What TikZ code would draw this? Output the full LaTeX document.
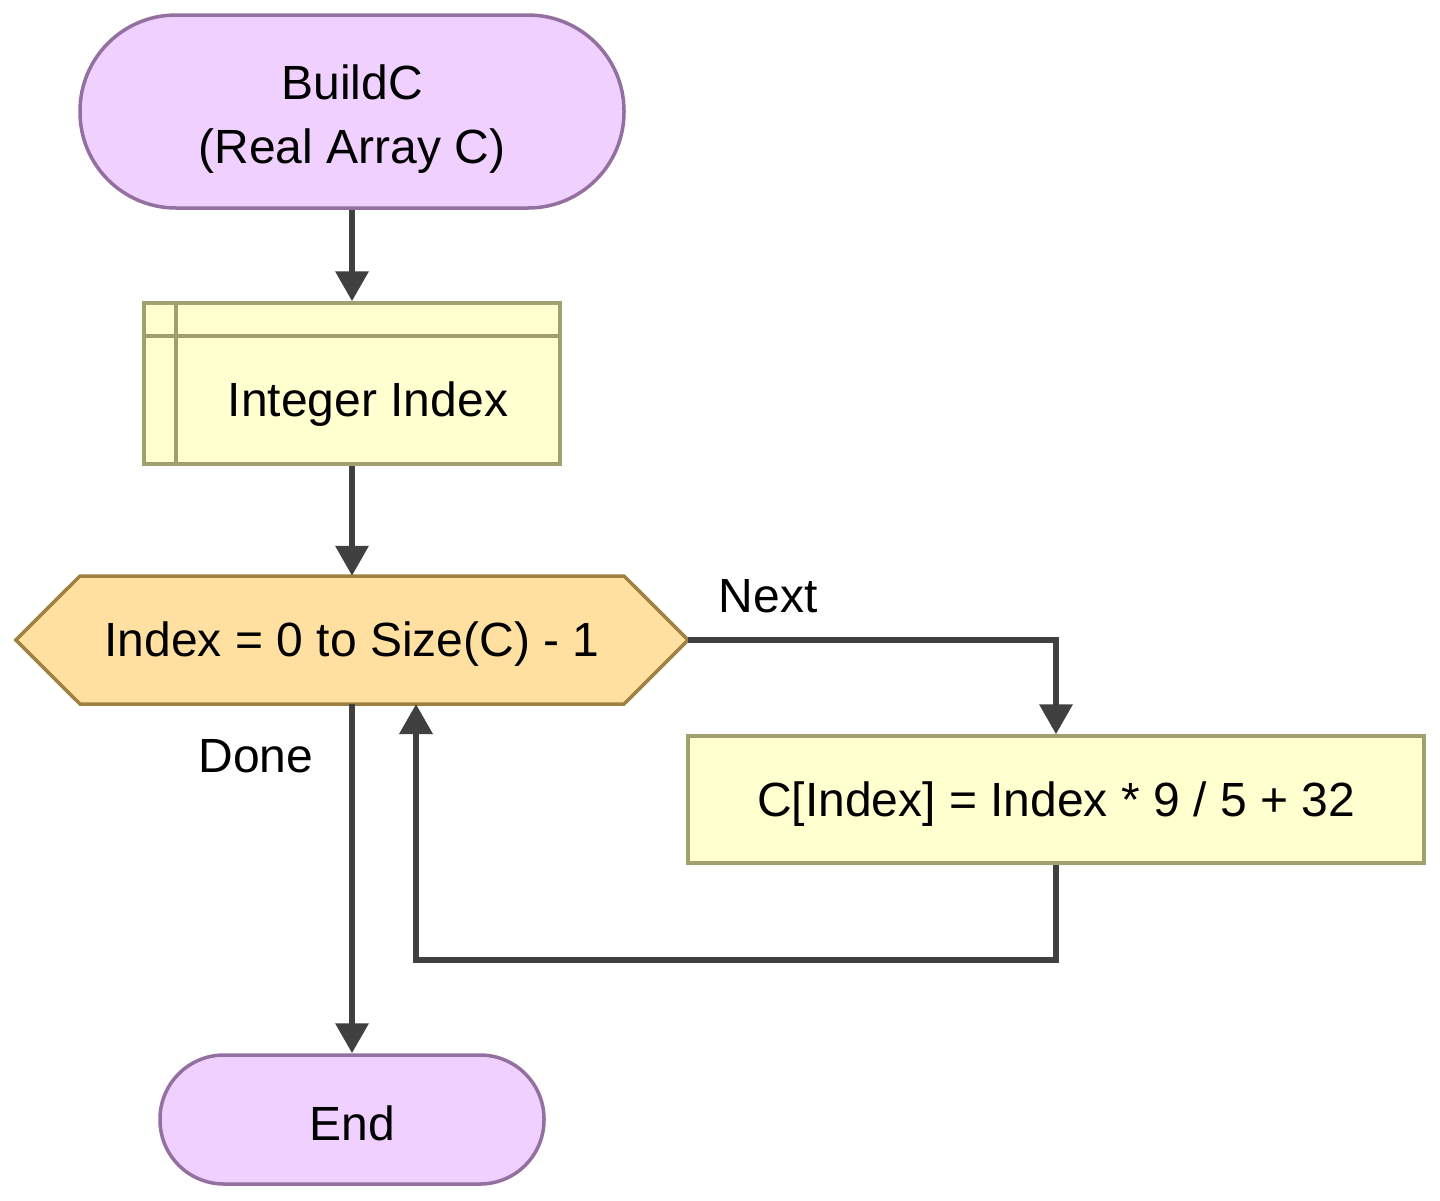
\documentclass[tikz,border=0pt]{standalone}
\usepackage{fontspec}
\setmainfont{Liberation Sans}
\usetikzlibrary{arrows.meta}
\definecolor{termfill}{HTML}{F0D0FF}
\definecolor{termdraw}{HTML}{9470A0}
\definecolor{boxfill}{HTML}{FFFFD0}
\definecolor{boxdraw}{HTML}{A0A070}
\definecolor{hexfill}{HTML}{FFE0A0}
\definecolor{hexdraw}{HTML}{A08040}
\definecolor{linecol}{HTML}{404040}
\tikzset{
  base/.style={inner sep=0pt, line width=3.5pt},
  term/.style={base, draw=termdraw, fill=termfill, rounded corners=#1},
  procbox/.style={base, draw=boxdraw, fill=boxfill},
  conn/.style={line width=6.5pt, draw=linecol, -{Triangle[length=30pt,width=32pt]}},
  lbl/.style={font=\fontsize{48}{64}\selectfont, inner sep=0pt, align=center}
}
\begin{document}
\begin{tikzpicture}[x=1pt,y=-1pt]
\useasboundingbox (0,0) rectangle (1440,1200);
% start
\node[term=96pt, minimum width=544pt, minimum height=193pt] (start) at (352,111.5) {};
\node[lbl] (starttext) at (352,119) {BuildC\\(Real Array C)};
% declare box
\node[procbox, minimum width=416pt, minimum height=161pt] (decl) at (352,383.5) {};
\draw[boxdraw, line width=3.5pt] (176,303) -- (176,464);
\draw[boxdraw, line width=3.5pt] (144,336) -- (560,336);
\node[lbl] (decltext) at (368,404) {Integer Index};
% hexagon
\node[minimum width=672pt, minimum height=128pt, inner sep=0pt] (hex) at (352,640) {};
\draw[hexdraw, fill=hexfill, line width=3.5pt, line join=miter]
  (hex.west) -- (80,576) -- (624,576) -- (hex.east) -- (624,704) -- (80,704) -- cycle;
\node[lbl] (hextext) at (352,644) {Index = 0 to Size(C) - 1};
% process box
\node[procbox, minimum width=736pt, minimum height=127pt] (calc) at (1056,799.5) {};
\node[lbl] (calctext) at (1056,804) {C[Index] = Index * 9 / 5 + 32};
% end
\node[term=64pt, minimum width=384pt, minimum height=129pt] (stop) at (352,1119.5) {};
\node[lbl] (stoptext) at (352,1123) {End};
% labels
\node[lbl] (nextl) at (768,596) {Next};
\node[lbl] (donel) at (256,756) {Done};
% connectors
\coordinate (c1) at (1056,640);
\coordinate (c2) at (1056,960);
\coordinate (c3) at (416,960);
\coordinate (c4) at (416,704);
\draw[conn] (start.south) -- (decl.north);
\draw[conn] (decl.south) -- (hex.north);
\draw[conn] (hex.east) -- (c1) -- (calc.north);
\draw[conn] (calc.south) -- (c2) -- (c3) -- (c4);
\draw[conn] (hex.south) -- (stop.north);
\end{tikzpicture}
\end{document}
